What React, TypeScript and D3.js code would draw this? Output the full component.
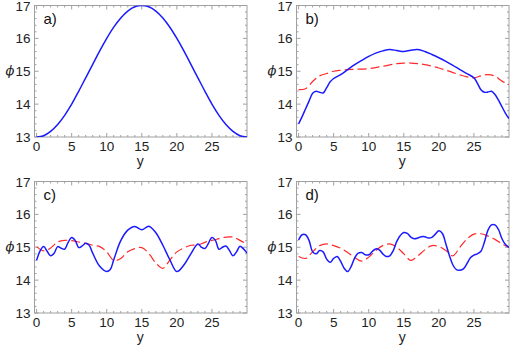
import { useEffect, useRef } from 'react';
import * as d3 from 'd3';

// panel a
const yA = [0, 1, 2, 3, 4, 5, 6, 7, 8, 9, 10, 11, 12, 13, 14, 15, 16, 17, 18, 19, 20, 21, 22, 23, 24, 25, 26, 27, 28, 29, 30];
const phiA = [13.0, 13.04, 13.17, 13.38, 13.66, 14.0, 14.39, 14.8, 15.21, 15.62, 16.0, 16.34, 16.62, 16.83, 16.96, 17.0, 16.96, 16.83, 16.62, 16.34, 16.0, 15.62, 15.21, 14.8, 14.39, 14.0, 13.66, 13.38, 13.17, 13.04, 13.0];

// panel b
const yBsolid = [0, 0.5, 1, 1.5, 2, 2.5, 3, 3.5, 4, 4.5, 5, 6, 7, 8, 9, 10, 11, 12, 13, 14, 15, 16, 17, 18, 19, 20, 21, 22, 23, 24, 25, 25.5, 26, 26.5, 27, 27.5, 28, 28.5, 29, 29.5, 30];
const phiBsolid = [13.4, 13.62, 13.86, 14.1, 14.33, 14.39, 14.36, 14.34, 14.5, 14.68, 14.78, 14.9, 15.05, 15.2, 15.33, 15.45, 15.55, 15.62, 15.66, 15.63, 15.6, 15.64, 15.66, 15.6, 15.51, 15.41, 15.3, 15.18, 15.05, 14.93, 14.8, 14.63, 14.44, 14.36, 14.37, 14.39, 14.29, 14.12, 13.92, 13.72, 13.56];
const yBdash = [0, 1, 2, 3, 4, 5, 6, 7, 8, 10, 12, 14, 15, 16, 17, 18, 20, 22, 24, 25, 26, 27, 28, 29, 30];
const phiBdash = [14.44, 14.47, 14.69, 14.86, 14.93, 15.0, 15.03, 15.05, 15.06, 15.08, 15.15, 15.23, 15.25, 15.25, 15.23, 15.2, 15.1, 14.96, 14.83, 14.8, 14.86, 14.9, 14.85, 14.7, 14.59];

// panel c
const yCsolid = [0, 0.5, 1, 1.5, 2, 2.5, 3, 3.5, 4, 4.5, 5, 5.5, 6, 6.5, 7, 7.5, 8, 9, 10, 10.5, 11, 12, 13, 14, 15, 16, 17, 18, 19, 20, 21, 22, 23, 23.5, 24, 24.5, 25, 25.5, 26, 26.5, 27, 27.5, 28, 28.5, 29, 29.5, 30];
const phiCsolid = [14.6, 14.89, 15.02, 14.88, 14.74, 14.82, 15.02, 14.97, 14.94, 15.15, 15.3, 15.21, 14.99, 15.04, 15.12, 15.06, 14.82, 14.42, 14.26, 14.32, 14.62, 15.2, 15.52, 15.63, 15.53, 15.64, 15.44, 15.06, 14.62, 14.26, 14.46, 14.8, 15.1, 15.0, 14.96, 15.12, 15.3, 15.21, 14.94, 15.0, 15.04, 14.9, 14.74, 14.86, 15.03, 14.95, 14.82];
const yCdash = [0, 1, 2, 3, 4, 5, 6, 7, 8, 9, 10, 11, 12, 13, 14, 15, 16, 17, 18, 19, 20, 21, 22, 23, 24, 25, 26, 27, 28, 29, 30];
const phiCdash = [15.02, 14.89, 14.98, 15.16, 15.21, 15.2, 15.16, 15.12, 15.06, 15.02, 14.86, 14.6, 14.66, 14.86, 14.96, 14.99, 14.81, 14.52, 14.36, 14.61, 14.86, 14.98, 15.06, 15.07, 15.15, 15.21, 15.26, 15.31, 15.31, 15.21, 15.09];

// panel d
const yDsolid = [0, 0.5, 1, 1.5, 2, 2.5, 3, 3.5, 4, 4.5, 5, 5.5, 6, 6.5, 7, 7.5, 8, 8.5, 9, 9.5, 10, 10.5, 11, 11.5, 12, 12.5, 13, 13.5, 14, 14.5, 15, 15.5, 16, 16.5, 17, 17.5, 18, 18.5, 19, 19.5, 20, 20.5, 21, 21.5, 22, 22.5, 23, 23.5, 24, 24.5, 25, 25.5, 26, 26.5, 27, 27.5, 28, 28.5, 29, 29.5, 30];
const phiDsolid = [15.22, 15.38, 15.38, 15.2, 14.86, 14.8, 14.9, 14.86, 14.64, 14.54, 14.66, 14.72, 14.57, 14.36, 14.26, 14.42, 14.68, 14.82, 14.84, 14.77, 14.77, 14.87, 14.95, 14.92, 14.8, 14.72, 14.74, 14.9, 15.18, 15.36, 15.45, 15.42, 15.31, 15.26, 15.28, 15.32, 15.32, 15.28, 15.3, 15.4, 15.5, 15.42, 15.1, 14.75, 14.46, 14.32, 14.3, 14.34, 14.5, 14.68, 14.76, 14.8, 14.88, 15.16, 15.52, 15.68, 15.68, 15.54, 15.26, 15.08, 15.0];
const yDdash = [0, 1, 2, 3, 4, 5, 6, 7, 8, 9, 10, 11, 12, 13, 14, 15, 16, 17, 18, 19, 20, 21, 22, 23, 24, 25, 26, 27, 28, 29, 30];
const phiDdash = [14.72, 14.66, 14.86, 15.05, 15.1, 15.05, 14.97, 14.84, 14.69, 14.58, 14.7, 14.9, 15.05, 15.1, 15.0, 14.8, 14.6, 14.74, 14.92, 15.05, 15.02, 14.9, 14.74, 15.0, 15.25, 15.4, 15.41, 15.34, 15.24, 15.1, 14.99];

const panelLabels = ['a)', 'b)', 'c)', 'd)'];
const xTicks = [0, 5, 10, 15, 20, 25];
const yTicks = [13, 14, 15, 16, 17];

const panels = [
  { label: panelLabels[0], solid: [yA, phiA], dash: null },
  { label: panelLabels[1], solid: [yBsolid, phiBsolid], dash: [yBdash, phiBdash] },
  { label: panelLabels[2], solid: [yCsolid, phiCsolid], dash: [yCdash, phiCdash] },
  { label: panelLabels[3], solid: [yDsolid, phiDsolid], dash: [yDdash, phiDdash] },
];

const boxes = [
  { left: 34.5, top: 5.5, w: 212.5, h: 131.5 },
  { left: 296.5, top: 5.5, w: 212.5, h: 131.5 },
  { left: 34.5, top: 181.5, w: 212.5, h: 131.5 },
  { left: 296.5, top: 181.5, w: 212.5, h: 131.5 },
];

const App = () => {
  const svgRef = useRef<SVGSVGElement>(null);

  useEffect(() => {
    const svg = d3.select(svgRef.current);
    svg.selectAll('*').remove();
    const font = 'Liberation Sans, Arial, sans-serif';
    const frameColor = '#a0a0a0';

    panels.forEach((p, i) => {
      const b = boxes[i];
      const x = d3.scaleLinear().domain([-0.3, 30]).range([0, b.w]);
      const y = d3.scaleLinear().domain([13, 17]).range([b.h, 0]);
      const g = svg.append('g').attr('transform', `translate(${b.left},${b.top})`);

      // clip
      const clipId = `clip${i}`;
      g.append('clipPath').attr('id', clipId)
        .append('rect').attr('width', b.w).attr('height', b.h);

      // frame
      g.append('rect')
        .attr('width', b.w).attr('height', b.h)
        .attr('fill', 'none').attr('stroke', frameColor).attr('stroke-width', 1);

      // ticks on all four sides (inward)
      const xMinor = d3.range(0, 31, 1).filter(v => v % 5 !== 0);
      const yMinor = d3.range(13, 17.01, 0.2).filter(v => Math.abs(v - Math.round(v)) > 0.01);
      const tickG = g.append('g').attr('stroke', frameColor).attr('stroke-width', 1);
      const addX = (vals: number[], len: number) => {
        vals.forEach(v => {
          tickG.append('line').attr('x1', x(v)).attr('x2', x(v)).attr('y1', b.h).attr('y2', b.h - len);
          tickG.append('line').attr('x1', x(v)).attr('x2', x(v)).attr('y1', 0).attr('y2', len);
        });
      };
      const addY = (vals: number[], len: number) => {
        vals.forEach(v => {
          tickG.append('line').attr('y1', y(v)).attr('y2', y(v)).attr('x1', 0).attr('x2', len);
          tickG.append('line').attr('y1', y(v)).attr('y2', y(v)).attr('x1', b.w).attr('x2', b.w - len);
        });
      };
      addX(xTicks, 4);
      addX(xMinor, 2);
      addY(yTicks, 4);
      addY(yMinor, 2);

      // tick labels
      g.selectAll('.xt').data(xTicks).enter().append('text')
        .attr('x', d => x(d)).attr('y', b.h + 14)
        .attr('text-anchor', 'middle')
        .attr('font-family', font).attr('font-size', 13.5).attr('fill', '#222')
        .text(d => d);
      g.selectAll('.yt').data(yTicks).enter().append('text')
        .attr('x', -4).attr('y', d => y(d) + 5)
        .attr('text-anchor', 'end')
        .attr('font-family', font).attr('font-size', 13.5).attr('fill', '#222')
        .text(d => d);

      // axis labels
      g.append('text')
        .attr('x', b.w / 2 - 0.5).attr('y', b.h + 28.5)
        .attr('text-anchor', 'middle')
        .attr('font-family', font).attr('font-size', 14).attr('fill', '#222')
        .text('y');
      g.append('text')
        .attr('x', -24.5).attr('y', b.h / 2 + 4)
        .attr('text-anchor', 'middle')
        .attr('font-family', 'DejaVu Serif, serif').attr('font-style', 'italic')
        .attr('font-size', 13).attr('fill', '#222')
        .text('ϕ');

      // panel label
      g.append('text')
        .attr('x', 9).attr('y', 18)
        .attr('font-family', font).attr('font-size', 15).attr('fill', '#111')
        .text(p.label);

      const plot = g.append('g').attr('clip-path', `url(#${clipId})`);

      if (p.dash) {
        const [xs, ys] = p.dash;
        const ln = d3.line<number>()
          .x(d => x(xs[d]))
          .y(d => y(ys[d]))
          .curve(d3.curveCatmullRom.alpha(0.5));
        plot.append('path')
          .attr('d', ln(d3.range(xs.length)))
          .attr('fill', 'none').attr('stroke', '#ff2a2a').attr('stroke-width', 1.2)
          .attr('stroke-dasharray', '9,4');
      }
      const [sx, sy] = p.solid;
      const sl = d3.line<number>()
        .x(d => x(sx[d]))
        .y(d => y(sy[d]))
        .curve(d3.curveCatmullRom.alpha(0.5));
      plot.append('path')
        .attr('d', sl(d3.range(sx.length)))
        .attr('fill', 'none').attr('stroke', '#1a1aff').attr('stroke-width', 1.5);
    });
  }, []);

  return (
    <svg ref={svgRef} width={514} height={346}
      style={{ position: 'absolute', left: 0, top: 0, background: '#fff' }} />
  );
};

export default App;
